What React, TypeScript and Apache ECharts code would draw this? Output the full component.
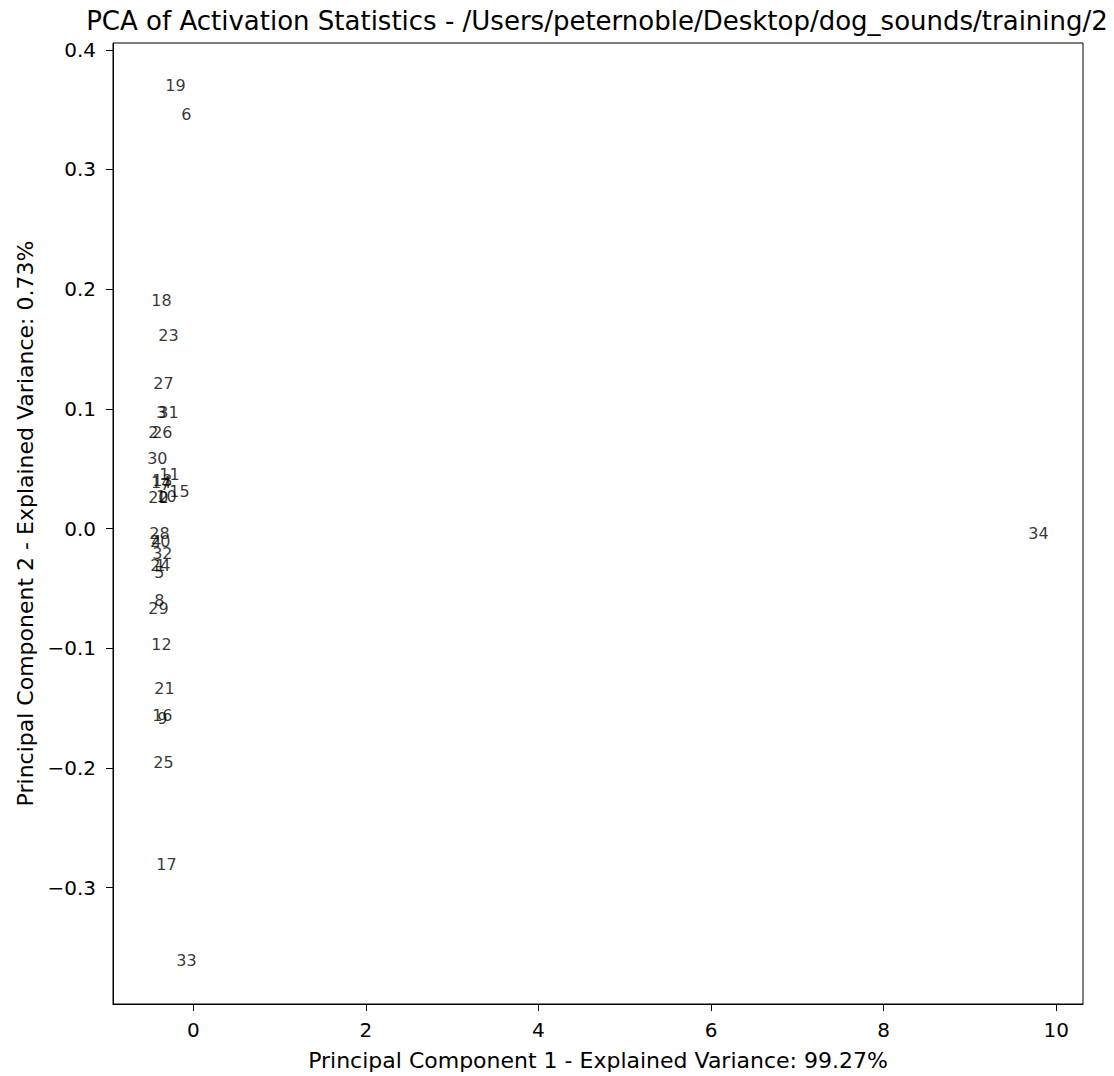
import React, { useEffect, useRef } from "react";
import * as echarts from "echarts";

const pointLabels = [
  "0", "1", "2", "3", "4", "5", "6", "7", "8", "9",
  "10", "11", "12", "13", "14", "15", "16", "17", "18", "19",
  "20", "21", "22", "23", "24", "25", "26", "27", "28", "29",
  "30", "31", "32", "33", "34",
];
const pc1 = [
  -0.405, -0.44, -0.522, -0.429, -0.487, -0.452, -0.139, -0.383, -0.452, -0.418,
  -0.429, -0.394, -0.487, -0.476, -0.49, -0.278, -0.476, -0.429, -0.487, -0.325,
  -0.5, -0.452, -0.522, -0.406, -0.499, -0.464, -0.476, -0.464, -0.51, -0.522,
  -0.534, -0.406, -0.476, -0.197, 9.675,
];
const pc2 = [
  0.0225, -0.034, 0.0768, 0.0935, -0.0142, -0.0401, 0.343, 0.0334, -0.0635, -0.162,
  0.0234, 0.0418, -0.1002, 0.0365, 0.0355, 0.0276, -0.1595, -0.284, 0.187, 0.3666,
  -0.0145, -0.137, 0.0225, 0.158, -0.0342, -0.1987, 0.0768, 0.118, -0.0075, -0.0701,
  0.0551, 0.0935, -0.0242, -0.364, -0.0075,
];
const xTicks = [0, 2, 4, 6, 8, 10];
const yTicks = [-0.3, -0.2, -0.1, 0.0, 0.1, 0.2, 0.3, 0.4];

const titleText = "PCA of Activation Statistics - /Users/peternoble/Desktop/dog_sounds/training/2";
const xName = "Principal Component 1 - Explained Variance: 99.27%";
const yName = "Principal Component 2 - Explained Variance: 0.73%";

const FONT = "'DejaVu Sans', sans-serif";

export default function App() {
  const ref = useRef<HTMLDivElement>(null);
  useEffect(() => {
    document.body.style.margin = "0";
    const chart = echarts.init(ref.current!, null, { renderer: "svg" });
    const data = pc1.map((x, i) => ({ value: [x, pc2[i]], name: pointLabels[i] }));
    const fmt = (v: number) => v.toFixed(1).replace("-", "\u2212");
    chart.setOption({
      animation: false,
      backgroundColor: "#ffffff",
      textStyle: { fontFamily: FONT },
      grid: {
        left: 113,
        right: 31,
        top: 43,
        bottom: 71,
        show: true,
        borderColor: "#000",
        borderWidth: 1,
        backgroundColor: "transparent",
      },
      graphic: [
        {
          type: "text",
          x: 597,
          y: 8,
          style: {
            text: titleText,
            fontSize: 26,
            fontFamily: FONT,
            fill: "#000",
            align: "center",
            verticalAlign: "top",
          },
        },
      ],
      xAxis: {
        type: "value",
        min: -0.93,
        max: 10.31,
        name: xName,
        nameLocation: "middle",
        nameGap: 45,
        nameTextStyle: { fontSize: 22, color: "#000", fontFamily: FONT },
        splitLine: { show: false },
        axisLine: { show: true, onZero: false, lineStyle: { color: "#000", width: 1 } },
        axisTick: {
          show: true,
          length: 7,
          lineStyle: { color: "#000" },
          customValues: xTicks,
        },
        axisLabel: {
          fontSize: 20,
          color: "#000",
          margin: 16,
          fontFamily: FONT,
          customValues: xTicks,
          formatter: (v: number) => String(v),
        },
      },
      yAxis: {
        type: "value",
        min: -0.3973,
        max: 0.4057,
        name: yName,
        nameLocation: "middle",
        nameRotate: 90,
        nameGap: 75,
        nameTextStyle: { fontSize: 22, color: "#000", fontFamily: FONT },
        splitLine: { show: false },
        axisLine: { show: true, onZero: false, lineStyle: { color: "#000", width: 1 } },
        axisTick: {
          show: true,
          length: 7,
          lineStyle: { color: "#000" },
          customValues: yTicks,
        },
        axisLabel: {
          fontSize: 20,
          color: "#000",
          margin: 17,
          fontFamily: FONT,
          customValues: yTicks,
          formatter: fmt,
        },
      },
      series: [
        {
          type: "scatter",
          data,
          symbolSize: 0,
          silent: true,
          label: {
            show: true,
            formatter: (p: any) => p.name,
            position: [0, 4],
            align: "left",
            verticalAlign: "bottom",
            fontSize: 16,
            color: "#000",
            fontFamily: FONT,
          },
          labelLayout: { hideOverlap: false },
        },
      ],
    });
    return () => chart.dispose();
  }, []);
  return <div ref={ref} style={{ width: 1114, height: 1076 }} />;
}
